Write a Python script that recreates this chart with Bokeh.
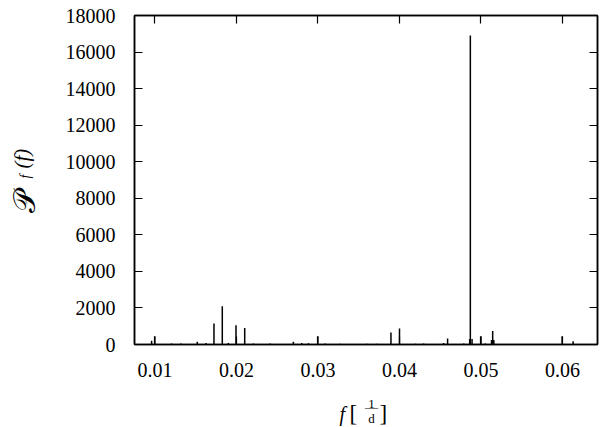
import math
from bokeh.plotting import figure
from bokeh.models import LinearAxis, FixedTicker, Range1d, Label, ColumnDataSource
from bokeh.embed import file_html
from bokeh.resources import INLINE

# periodogram peaks: frequency [1/d] and power
freq = [0.00960, 0.01000, 0.01205, 0.01319, 0.01520, 0.01627, 0.01725, 0.01827,
        0.01901, 0.01995, 0.02102, 0.02208, 0.02413, 0.02699, 0.02802, 0.02884,
        0.03000, 0.03088, 0.03273, 0.03601, 0.03724, 0.03896, 0.04001, 0.04194,
        0.04296, 0.04542, 0.04591, 0.04788, 0.04862, 0.04870, 0.04891, 0.05001,
        0.05054, 0.05130, 0.05144, 0.05158, 0.05505, 0.05644, 0.05770, 0.05996,
        0.06131]
power = [200, 450, 60, 50, 150, 80, 1150, 2090,
         80, 1050, 900, 60, 50, 150, 80, 70,
         450, 50, 40, 40, 40, 650, 870, 40,
         50, 80, 330, 60, 300, 16900, 300, 450,
         60, 250, 740, 250, 30, 30, 30, 450,
         180]

x_ticks = [0.01, 0.02, 0.03, 0.04, 0.05, 0.06]
x_tick_labels = {0.01: "0.01", 0.02: "0.02", 0.03: "0.03", 0.04: "0.04", 0.05: "0.05", 0.06: "0.06"}
y_ticks = [0, 2000, 4000, 6000, 8000, 10000, 12000, 14000, 16000, 18000]

FONT = "Liberation Serif"
W, H = 600, 427

src = ColumnDataSource(dict(f=freq, p=power, z=[0] * len(freq)))

p = figure(width=W, height=H, output_backend="svg", toolbar_location=None,
           x_range=Range1d(0.0075, 0.0643), y_range=Range1d(0, 18000),
           min_border_left=134, min_border_right=3, min_border_top=15, min_border_bottom=83)
p.xgrid.visible = False
p.ygrid.visible = False
p.outline_line_color = "black"
p.outline_line_width = 1.5
p.background_fill_color = "white"
p.border_fill_color = "white"

p.segment(x0="f", y0="z", x1="f", y1="p", source=src, line_color="black", line_width=1.5)

xa = p.xaxis[0]
xa.ticker = FixedTicker(ticks=x_ticks)
xa.major_label_overrides = x_tick_labels
ya = p.yaxis[0]
ya.ticker = FixedTicker(ticks=y_ticks)
for ax in (xa, ya):
    ax.major_tick_in = 8
    ax.major_tick_out = 0
    ax.minor_tick_line_color = None
    ax.axis_line_width = 1.5
    ax.major_tick_line_width = 1.2
    ax.major_label_text_font = FONT
    ax.major_label_text_font_size = "20px"
    ax.major_label_text_color = "black"
xa.major_label_standoff = 18
ya.major_label_standoff = 19

# mirror axes (ticks only, empty labels)
top = LinearAxis(ticker=FixedTicker(ticks=x_ticks))
top.major_label_overrides = {t: "" for t in x_ticks}
right = LinearAxis(ticker=FixedTicker(ticks=y_ticks))
right.major_label_overrides = {t: "" for t in y_ticks}
for ax in (top, right):
    ax.major_tick_in = 8
    ax.major_tick_out = 0
    ax.minor_tick_line_color = None
    ax.major_label_text_font_size = "1px"
    ax.major_label_standoff = 0
    ax.axis_line_width = 1.5
    ax.major_tick_line_width = 1.2
p.add_layout(top, "above")
p.add_layout(right, "right")

# transparent overlay canvas (pixel coordinates, y up) for the axis titles
q = figure(width=W, height=H, output_backend="svg", toolbar_location=None,
           x_range=Range1d(0, W), y_range=Range1d(0, H), min_border=0,
           x_axis_type=None, y_axis_type=None)
q.styles = {"position": "absolute", "top": "0px", "left": "0px"}
q.xgrid.visible = False
q.ygrid.visible = False
q.outline_line_color = None
q.background_fill_color = None
q.border_fill_color = None


def lab(text, x, y, size, style="normal", angle=0.0, align="left", baseline="alphabetic", font=FONT):
    q.add_layout(Label(text=text, x=x, y=y, text_font=font, text_font_size=size,
                       text_font_style=style, angle=angle, text_align=align,
                       text_baseline=baseline, text_color="black"))


# y label: P_f(f)
lab("\U0001D4AB", 23, 215, "31px", angle=math.pi / 2, font="DejaVu Serif")
lab("f", 25, 249, "14px", style="italic", angle=math.pi / 2)
lab("(f)", 21, 259, "21px", style="italic", angle=math.pi / 2)

# x label: f [1/d]
lab("f", 339, 14, "20px", style="italic")
lab("[", 349, 14, "23px")
lab("1", 371, 24, "13px", align="center")
lab("\u2015", 371, 21, "13px", align="center", baseline="middle")
lab("d", 371, 9, "13px", align="center")
lab("]", 379, 14, "23px")

open("out.html", "w").write(file_html([p, q], INLINE))
